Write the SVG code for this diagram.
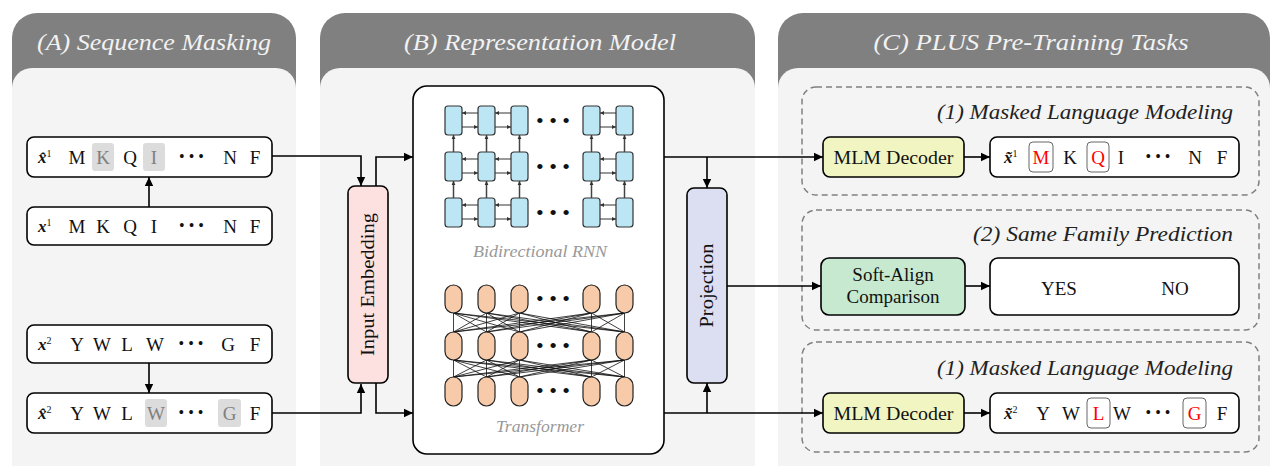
<svg xmlns="http://www.w3.org/2000/svg" width="1271" height="466" viewBox="0 0 1271 466" font-family="'Liberation Serif', 'Times New Roman', Times, 'DejaVu Serif', 'Noto Serif', FreeSerif, serif">
<defs>
<marker id="ah" markerUnits="userSpaceOnUse" markerWidth="10" markerHeight="10" refX="9" refY="5" orient="auto"><path d="M0,0.8 L9,5 L0,9.2 z" fill="#000"/></marker>
<marker id="sa" markerUnits="userSpaceOnUse" markerWidth="5" markerHeight="5" refX="4" refY="2.5" orient="auto"><path d="M0,0.6 L4,2.5 L0,4.4 z" fill="#333"/></marker>
</defs>
<style>
.hdr{fill:#808080}
.body{fill:#f4f4f4}
.title{font-style:italic;font-size:24px;fill:#f2f2f2;text-anchor:middle}
.box{fill:#fff;stroke:#000;stroke-width:1.6}
.t{font-size:19px;fill:#111;text-anchor:middle}
.xv{font-size:17px;font-style:italic;font-weight:bold;fill:#111}
.sp{font-size:10px;font-style:normal;font-weight:normal}
.mask{fill:#dcdcdc}
.gt{fill:#808080}
.red{fill:#ff0000}
.rbox{fill:#fff;stroke:#666;stroke-width:1}
.conn{fill:none;stroke:#000;stroke-width:1.6;marker-end:url(#ah)}
.cell{fill:#bde6f5;stroke:#333;stroke-width:1.2}
.tok{fill:#f7caa9;stroke:#222;stroke-width:1.2}
.rl{stroke:#333;stroke-width:1;marker-end:url(#sa)}
.rv{stroke:#444;stroke-width:1.5;marker-end:url(#sa)}
.tl{stroke:#111;stroke-width:0.8}
.sub{font-style:italic;font-size:16px;fill:#999;text-anchor:middle}
.grp{fill:none;stroke:#808080;stroke-width:1.5;stroke-dasharray:6 4}
.gtitle{font-style:italic;font-size:21px;fill:#222;text-anchor:end}
.dots{font-size:16px;fill:#111;text-anchor:middle}
.bdots{font-size:22px;fill:#111;text-anchor:middle}
</style>

<g id="panelA">
<rect class="hdr" x="12" y="13" width="284" height="480" rx="25"/>
<rect class="body" x="12" y="68" width="284" height="420" rx="20"/>
<text class="title" x="154" y="50" textLength="234" lengthAdjust="spacingAndGlyphs">(A) Sequence Masking</text>
</g>
<g id="panelB">
<rect class="hdr" x="320" y="13" width="435" height="480" rx="25"/>
<rect class="body" x="320" y="68" width="435" height="420" rx="20"/>
<text class="title" x="540" y="50" textLength="272" lengthAdjust="spacingAndGlyphs">(B) Representation Model</text>
</g>
<g id="panelC">
<rect class="hdr" x="778" y="13" width="492" height="480" rx="25"/>
<rect class="body" x="778" y="68" width="492" height="420" rx="20"/>
<text class="title" x="1031" y="50" textLength="315" lengthAdjust="spacingAndGlyphs">(C) PLUS Pre-Training Tasks</text>
</g>

<g id="groups">
<rect class="grp" x="802" y="87" width="457" height="108" rx="14"/>
<text class="gtitle" x="1233" y="119" textLength="296" lengthAdjust="spacingAndGlyphs">(1) Masked Language Modeling</text>
<rect class="grp" x="802" y="210" width="457" height="120" rx="14"/>
<text class="gtitle" x="1233" y="241" textLength="260" lengthAdjust="spacingAndGlyphs">(2) Same Family Prediction</text>
<rect class="grp" x="802" y="342" width="457" height="110" rx="14"/>
<text class="gtitle" x="1233" y="375" textLength="296" lengthAdjust="spacingAndGlyphs">(1) Masked Language Modeling</text>
</g>

<g id="connectors">
<polyline class="conn" points="272,156 361,156 361,186"/>
<polyline class="conn" points="272,413 361,413 361,384"/>
<line class="conn" x1="149" y1="207" x2="149" y2="177"/>
<line class="conn" x1="149" y1="363" x2="149" y2="393"/>
<polyline class="conn" points="376,186 376,157 413,157"/>
<polyline class="conn" points="376,383 376,413 413,413"/>
<line class="conn" x1="664" y1="157" x2="823" y2="157"/>
<line class="conn" x1="707" y1="157" x2="707" y2="188"/>
<line class="conn" x1="664" y1="413" x2="823" y2="413"/>
<line class="conn" x1="707" y1="413" x2="707" y2="383"/>
<line class="conn" x1="727" y1="286" x2="821" y2="286"/>
<line class="conn" x1="964" y1="157" x2="990" y2="157"/>
<line class="conn" x1="965" y1="286" x2="990" y2="286"/>
<line class="conn" x1="964" y1="413" x2="990" y2="413"/>
</g>

<g id="seq-x1-masked">
<rect class="box" x="27" y="137" width="245" height="40" rx="7"/>
<rect class="mask" x="92" y="143" width="22" height="28" rx="3"/>
<rect class="mask" x="143" y="143" width="22" height="28" rx="3"/>
<text class="xv" x="38" y="163">x̂<tspan class="sp" dy="-6">1</tspan></text>
<text class="t" x="77" y="164">M</text>
<text class="t gt" x="103" y="164">K</text>
<text class="t" x="130" y="164">Q</text>
<text class="t gt" x="154" y="164">I</text>
<text class="dots" x="191.5" y="162">• • •</text>
<text class="t" x="230" y="164">N</text>
<text class="t" x="255" y="164">F</text>
</g>
<g id="seq-x1">
<rect class="box" x="27" y="207" width="245" height="38" rx="7"/>
<text class="xv" x="38" y="232">x<tspan class="sp" dy="-6">1</tspan></text>
<text class="t" x="77" y="233">M</text>
<text class="t" x="103" y="233">K</text>
<text class="t" x="130" y="233">Q</text>
<text class="t" x="154" y="233">I</text>
<text class="dots" x="191.5" y="231">• • •</text>
<text class="t" x="230" y="233">N</text>
<text class="t" x="255" y="233">F</text>
</g>
<g id="seq-x2">
<rect class="box" x="27" y="325" width="245" height="38" rx="7"/>
<text class="xv" x="38" y="350">x<tspan class="sp" dy="-6">2</tspan></text>
<text class="t" x="77" y="351">Y</text>
<text class="t" x="102" y="351">W</text>
<text class="t" x="127" y="351">L</text>
<text class="t" x="155" y="351">W</text>
<text class="dots" x="191" y="349">• • •</text>
<text class="t" x="228" y="351">G</text>
<text class="t" x="255" y="351">F</text>
</g>
<g id="seq-x2-masked">
<rect class="box" x="27" y="393" width="245" height="40" rx="7"/>
<rect class="mask" x="145" y="399" width="22" height="28" rx="3"/>
<rect class="mask" x="218" y="399" width="23" height="28" rx="3"/>
<text class="xv" x="38" y="419">x̂<tspan class="sp" dy="-6">2</tspan></text>
<text class="t" x="77" y="420">Y</text>
<text class="t" x="102" y="420">W</text>
<text class="t" x="127" y="420">L</text>
<text class="t gt" x="156" y="420">W</text>
<text class="dots" x="191" y="418">• • •</text>
<text class="t gt" x="229.5" y="420">G</text>
<text class="t" x="255" y="420">F</text>
</g>

<g id="input-embedding">
<rect x="348" y="186" width="40" height="197" rx="7" fill="#fde1e1" stroke="#000" stroke-width="1.6"/>
<text class="t" transform="translate(374,284.5) rotate(-90)" x="0" y="0" textLength="143" lengthAdjust="spacingAndGlyphs">Input Embedding</text>
</g>

<g id="representation-model">
<rect x="413" y="86" width="251" height="368" rx="14" fill="#fff" stroke="#000" stroke-width="1.6"/>
<g id="rnn">
<rect class="cell" x="445" y="106" width="17" height="29" rx="3"/>
<rect class="cell" x="478" y="106" width="17" height="29" rx="3"/>
<rect class="cell" x="511" y="106" width="17" height="29" rx="3"/>
<rect class="cell" x="583" y="106" width="17" height="29" rx="3"/>
<rect class="cell" x="616" y="106" width="17" height="29" rx="3"/>
<rect class="cell" x="445" y="152" width="17" height="29" rx="3"/>
<rect class="cell" x="478" y="152" width="17" height="29" rx="3"/>
<rect class="cell" x="511" y="152" width="17" height="29" rx="3"/>
<rect class="cell" x="583" y="152" width="17" height="29" rx="3"/>
<rect class="cell" x="616" y="152" width="17" height="29" rx="3"/>
<rect class="cell" x="445" y="198" width="17" height="29" rx="3"/>
<rect class="cell" x="478" y="198" width="17" height="29" rx="3"/>
<rect class="cell" x="511" y="198" width="17" height="29" rx="3"/>
<rect class="cell" x="583" y="198" width="17" height="29" rx="3"/>
<rect class="cell" x="616" y="198" width="17" height="29" rx="3"/>
<line class="rl" x1="478" y1="113" x2="462" y2="113"/><line class="rl" x1="462" y1="127" x2="478" y2="127"/>
<line class="rl" x1="511" y1="113" x2="495" y2="113"/><line class="rl" x1="495" y1="127" x2="511" y2="127"/>
<line class="rl" x1="616" y1="113" x2="600" y2="113"/><line class="rl" x1="600" y1="127" x2="616" y2="127"/>
<line class="rl" x1="478" y1="159" x2="462" y2="159"/><line class="rl" x1="462" y1="173" x2="478" y2="173"/>
<line class="rl" x1="511" y1="159" x2="495" y2="159"/><line class="rl" x1="495" y1="173" x2="511" y2="173"/>
<line class="rl" x1="616" y1="159" x2="600" y2="159"/><line class="rl" x1="600" y1="173" x2="616" y2="173"/>
<line class="rl" x1="478" y1="205" x2="462" y2="205"/><line class="rl" x1="462" y1="219" x2="478" y2="219"/>
<line class="rl" x1="511" y1="205" x2="495" y2="205"/><line class="rl" x1="495" y1="219" x2="511" y2="219"/>
<line class="rl" x1="616" y1="205" x2="600" y2="205"/><line class="rl" x1="600" y1="219" x2="616" y2="219"/>
<line class="rv" x1="453.5" y1="152" x2="453.5" y2="135"/><line class="rv" x1="486.5" y1="152" x2="486.5" y2="135"/><line class="rv" x1="519.5" y1="152" x2="519.5" y2="135"/><line class="rv" x1="591.5" y1="152" x2="591.5" y2="135"/><line class="rv" x1="624.5" y1="152" x2="624.5" y2="135"/>
<line class="rv" x1="453.5" y1="198" x2="453.5" y2="181"/><line class="rv" x1="486.5" y1="198" x2="486.5" y2="181"/><line class="rv" x1="519.5" y1="198" x2="519.5" y2="181"/><line class="rv" x1="591.5" y1="198" x2="591.5" y2="181"/><line class="rv" x1="624.5" y1="198" x2="624.5" y2="181"/>
<text class="bdots" x="553" y="128">• • •</text>
<text class="bdots" x="553" y="174">• • •</text>
<text class="bdots" x="553" y="220">• • •</text>
<text class="sub" x="540" y="257" textLength="134" lengthAdjust="spacingAndGlyphs">Bidirectional RNN</text>
</g>
<g id="transformer">
<g class="tl">
<line x1="453.5" y1="377" x2="453.5" y2="360"/><line x1="453.5" y1="377" x2="486.5" y2="360"/><line x1="453.5" y1="377" x2="519.5" y2="360"/><line x1="453.5" y1="377" x2="591.5" y2="360"/><line x1="453.5" y1="377" x2="624.5" y2="360"/>
<line x1="486.5" y1="377" x2="453.5" y2="360"/><line x1="486.5" y1="377" x2="486.5" y2="360"/><line x1="486.5" y1="377" x2="519.5" y2="360"/><line x1="486.5" y1="377" x2="591.5" y2="360"/><line x1="486.5" y1="377" x2="624.5" y2="360"/>
<line x1="519.5" y1="377" x2="453.5" y2="360"/><line x1="519.5" y1="377" x2="486.5" y2="360"/><line x1="519.5" y1="377" x2="519.5" y2="360"/><line x1="519.5" y1="377" x2="591.5" y2="360"/><line x1="519.5" y1="377" x2="624.5" y2="360"/>
<line x1="591.5" y1="377" x2="453.5" y2="360"/><line x1="591.5" y1="377" x2="486.5" y2="360"/><line x1="591.5" y1="377" x2="519.5" y2="360"/><line x1="591.5" y1="377" x2="591.5" y2="360"/><line x1="591.5" y1="377" x2="624.5" y2="360"/>
<line x1="624.5" y1="377" x2="453.5" y2="360"/><line x1="624.5" y1="377" x2="486.5" y2="360"/><line x1="624.5" y1="377" x2="519.5" y2="360"/><line x1="624.5" y1="377" x2="591.5" y2="360"/><line x1="624.5" y1="377" x2="624.5" y2="360"/>
<line x1="453.5" y1="332" x2="453.5" y2="313"/><line x1="453.5" y1="332" x2="486.5" y2="313"/><line x1="453.5" y1="332" x2="519.5" y2="313"/><line x1="453.5" y1="332" x2="591.5" y2="313"/><line x1="453.5" y1="332" x2="624.5" y2="313"/>
<line x1="486.5" y1="332" x2="453.5" y2="313"/><line x1="486.5" y1="332" x2="486.5" y2="313"/><line x1="486.5" y1="332" x2="519.5" y2="313"/><line x1="486.5" y1="332" x2="591.5" y2="313"/><line x1="486.5" y1="332" x2="624.5" y2="313"/>
<line x1="519.5" y1="332" x2="453.5" y2="313"/><line x1="519.5" y1="332" x2="486.5" y2="313"/><line x1="519.5" y1="332" x2="519.5" y2="313"/><line x1="519.5" y1="332" x2="591.5" y2="313"/><line x1="519.5" y1="332" x2="624.5" y2="313"/>
<line x1="591.5" y1="332" x2="453.5" y2="313"/><line x1="591.5" y1="332" x2="486.5" y2="313"/><line x1="591.5" y1="332" x2="519.5" y2="313"/><line x1="591.5" y1="332" x2="591.5" y2="313"/><line x1="591.5" y1="332" x2="624.5" y2="313"/>
<line x1="624.5" y1="332" x2="453.5" y2="313"/><line x1="624.5" y1="332" x2="486.5" y2="313"/><line x1="624.5" y1="332" x2="519.5" y2="313"/><line x1="624.5" y1="332" x2="591.5" y2="313"/><line x1="624.5" y1="332" x2="624.5" y2="313"/>
</g>
<rect class="tok" x="445" y="285" width="17" height="28" rx="8.5"/>
<rect class="tok" x="478" y="285" width="17" height="28" rx="8.5"/>
<rect class="tok" x="511" y="285" width="17" height="28" rx="8.5"/>
<rect class="tok" x="583" y="285" width="17" height="28" rx="8.5"/>
<rect class="tok" x="616" y="285" width="17" height="28" rx="8.5"/>
<rect class="tok" x="445" y="332" width="17" height="28" rx="8.5"/>
<rect class="tok" x="478" y="332" width="17" height="28" rx="8.5"/>
<rect class="tok" x="511" y="332" width="17" height="28" rx="8.5"/>
<rect class="tok" x="583" y="332" width="17" height="28" rx="8.5"/>
<rect class="tok" x="616" y="332" width="17" height="28" rx="8.5"/>
<rect class="tok" x="445" y="377" width="17" height="29" rx="8.5"/>
<rect class="tok" x="478" y="377" width="17" height="29" rx="8.5"/>
<rect class="tok" x="511" y="377" width="17" height="29" rx="8.5"/>
<rect class="tok" x="583" y="377" width="17" height="29" rx="8.5"/>
<rect class="tok" x="616" y="377" width="17" height="29" rx="8.5"/>
<text class="bdots" x="553" y="306">• • •</text>
<text class="bdots" x="553" y="353">• • •</text>
<text class="bdots" x="553" y="398">• • •</text>
<text class="sub" x="540" y="432" textLength="88" lengthAdjust="spacingAndGlyphs">Transformer</text>
</g>
</g>

<g id="projection">
<rect x="687" y="188" width="40" height="195" rx="7" fill="#dcdff2" stroke="#000" stroke-width="1.6"/>
<text class="t" transform="translate(713,285.5) rotate(-90)" x="0" y="0" textLength="84" lengthAdjust="spacingAndGlyphs">Projection</text>
</g>

<g id="mlm-decoder-1">
<rect x="823" y="137" width="141" height="40" rx="7" fill="#f1f5c1" stroke="#000" stroke-width="1.6"/>
<text class="t" x="893.5" y="163.5" font-size="20" textLength="120" lengthAdjust="spacingAndGlyphs">MLM Decoder</text>
</g>
<g id="mlm-output-1">
<rect class="box" x="990" y="137" width="249" height="40" rx="7"/>
<rect class="rbox" x="1029" y="142" width="24" height="30" rx="4"/>
<rect class="rbox" x="1087" y="142" width="22" height="30" rx="4"/>
<text class="xv" x="1004" y="163">x̃<tspan class="sp" dy="-6">1</tspan></text>
<text class="t red" x="1041" y="164">M</text>
<text class="t" x="1070" y="164">K</text>
<text class="t red" x="1098" y="164">Q</text>
<text class="t" x="1121" y="164">I</text>
<text class="dots" x="1158" y="162">• • •</text>
<text class="t" x="1195" y="164">N</text>
<text class="t" x="1222" y="164">F</text>
</g>

<g id="soft-align">
<rect x="821" y="258" width="144" height="57" rx="8" fill="#c6e9d0" stroke="#000" stroke-width="1.6"/>
<text class="t" x="893" y="281">Soft-Align</text>
<text class="t" x="893" y="303">Comparison</text>
</g>
<g id="same-family-output">
<rect class="box" x="990" y="258" width="249" height="57" rx="8"/>
<text class="t" x="1059" y="295">YES</text>
<text class="t" x="1175" y="295">NO</text>
</g>

<g id="mlm-decoder-2">
<rect x="823" y="393" width="141" height="40" rx="7" fill="#f1f5c1" stroke="#000" stroke-width="1.6"/>
<text class="t" x="893.5" y="419.5" font-size="20" textLength="120" lengthAdjust="spacingAndGlyphs">MLM Decoder</text>
</g>
<g id="mlm-output-2">
<rect class="box" x="990" y="393" width="249" height="40" rx="7"/>
<rect class="rbox" x="1087" y="398" width="23" height="30" rx="4"/>
<rect class="rbox" x="1183" y="398" width="23" height="30" rx="4"/>
<text class="xv" x="1004" y="419">x̃<tspan class="sp" dy="-6">2</tspan></text>
<text class="t" x="1043" y="420">Y</text>
<text class="t" x="1071" y="420">W</text>
<text class="t red" x="1098.5" y="420">L</text>
<text class="t" x="1122" y="420">W</text>
<text class="dots" x="1158" y="418">• • •</text>
<text class="t red" x="1194.5" y="420">G</text>
<text class="t" x="1222" y="420">F</text>
</g>
</svg>
